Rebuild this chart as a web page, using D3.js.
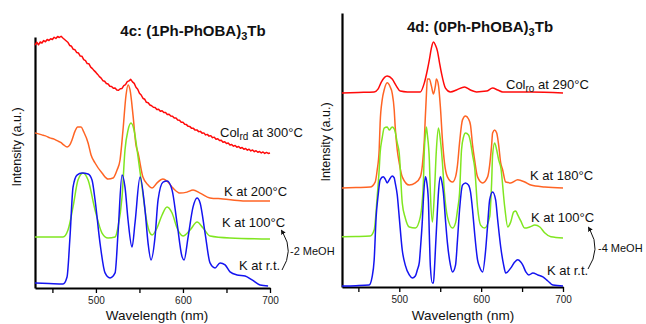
<!DOCTYPE html>
<html>
<head>
<meta charset="utf-8">
<script src="https://cdn.jsdelivr.net/npm/d3@7"></script>
<style>
  body { margin: 0; background: #fff; }
  svg { font-family: "Liberation Sans", Arial, sans-serif; }
  .lbl { font-size: 13px; fill: #111; }
  .ttl { font-size: 15px; font-weight: bold; fill: #111; }
  .tick text { font-size: 10px; fill: #222; }
</style>
</head>
<body>
<script>
// wavelength ticks (nm)
var xTicks = [450, 500, 550, 600, 650, 700];
var xLabels = [500, 600, 700];

// ---- 4c: (1Ph-PhOBA)3Tb ----  [wavelength, intensity a.u.]
var c_col300 = [[430,96.8],[432,97.9],[434,96.9],[436,98.0],[438,97.6],[440,98.6],[442,98.1],[444,99.0],[446,98.6],[448,99.3],[450,99.0],[452,99.9],[454,99.4],[456,100.2],[458,99.8],[460,100.3],[462,99.6],[464,99.0],[466,98.4],[468,97.8],[470,96.6],[472,96.3],[474,95.1],[476,94.9],[478,93.8],[480,93.6],[482,92.4],[484,92.3],[486,91.0],[488,90.6],[490,89.4],[492,89.3],[494,88.0],[496,87.4],[498,86.6],[500,85.9],[502,85.1],[504,84.2],[506,83.6],[508,82.6],[510,82.4],[512,81.5],[514,81.3],[516,80.4],[518,80.3],[520,79.6],[522,79.7],[524,78.9],[526,78.8],[528,79.4],[530,79.5],[532,80.6],[534,81.0],[536,82.2],[538,82.5],[540,83.1],[542,82.1],[544,81.5],[546,80.0],[548,79.2],[550,77.6],[552,76.9],[554,75.6],[556,75.2],[558,74.0],[560,73.8],[562,72.9],[564,72.6],[566,72.0],[568,71.9],[570,71.1],[572,71.2],[574,70.4],[576,70.6],[578,69.9],[580,69.9],[582,69.1],[584,69.2],[586,68.5],[588,68.4],[590,67.7],[592,67.7],[594,66.9],[596,66.8],[598,66.0],[600,66.0],[602,65.2],[604,65.1],[606,64.4],[608,64.3],[610,63.6],[612,63.6],[614,62.9],[616,63.0],[618,62.3],[620,62.4],[622,61.7],[624,61.8],[626,61.0],[628,61.2],[630,60.5],[632,60.7],[634,59.9],[636,60.1],[638,59.3],[640,59.5],[642,58.8],[644,58.9],[646,58.1],[648,58.3],[650,57.6],[652,57.8],[654,57.0],[656,57.2],[658,56.5],[660,56.8],[662,56.1],[664,56.4],[666,55.7],[668,56.0],[670,55.3],[672,55.6],[674,54.9],[676,55.3],[678,54.6],[680,55.0],[682,54.3],[684,54.7],[686,54.1],[688,54.4],[690,53.8],[692,54.2],[694,53.6],[696,54.0],[698,53.6],[700,53.8]];
var c_k200 = [[430,61.8],[434,61.4],[438,61.0],[442,60.6],[447,59.8],[452,59.3],[456,58.6],[460,57.9],[463,57.0],[467,56.2],[470,57.0],[472.5,59.0],[476,62.5],[479,64.1],[483,64.1],[486,62.2],[491,57.8],[494.4,53.0],[499,49.8],[507,45.8],[514,43.4],[519.7,43.8],[524.3,47.0],[527.7,51.0],[531.1,62.9],[534.6,76.9],[536.9,80.9],[539.2,78.9],[542.6,68.9],[546,57.0],[548.4,53.8],[554,44.2],[560,41.0],[564.5,39.8],[570,41.8],[577,43.4],[581.7,42.6],[588.6,39.8],[596.7,37.8],[604.7,38.2],[611.6,39.0],[619.7,37.8],[631,35.9],[646,35.5],[669,34.7],[700,34.7]];
var c_k100 = [[430,20.3],[446,20.3],[462.2,20.3],[467.9,23.1],[473.7,32.3],[479.4,43.0],[485.2,45.8],[491,43.0],[499,31.1],[507,21.9],[513.9,19.9],[522,20.3],[525.4,24.3],[530,36.3],[533.4,55.0],[536.9,62.9],[540.3,65.7],[543.8,62.9],[548.4,52.2],[553,40.2],[558.7,25.9],[564.5,21.1],[570.2,23.9],[576,29.1],[581.7,32.3],[587.5,29.9],[593.2,23.9],[600.1,20.7],[608.2,23.1],[616.2,26.3],[623.1,23.9],[631.1,20.7],[654,19.9],[700,19.5]];
var c_krt = [[430,2.0],[446,1.8],[462.2,1.6],[466.8,4.4],[470.2,20.3],[473.7,40.2],[478.3,45.0],[484,45.8],[491,45.4],[495.5,43.0],[499,35.1],[504.7,17.9],[510.5,6.0],[516.2,4.0],[522,6.0],[525.4,21.9],[530,45.0],[533.4,40.2],[536.9,27.1],[541.5,16.3],[544.9,25.9],[550.7,44.2],[556.4,31.1],[559.9,17.9],[563.3,11.2],[567.9,20.3],[571.4,35.1],[577.1,42.2],[581.7,42.6],[587.5,39.0],[593.2,25.9],[599,12.4],[601.3,11.2],[605.9,20.3],[611.6,32.3],[616.2,35.9],[619.7,33.9],[625.4,21.9],[631.1,10.0],[636.9,8.0],[642.6,10.0],[648.4,9.2],[654.1,6.4],[662.2,5.2],[671.4,4.8],[679.4,3.2],[688.6,1.2],[697.8,0.8]];

// ---- 4d: (0Ph-PhOBA)3Tb ----
var d_col290 = [[430,70.8],[450,71.0],[469.3,71.2],[474.2,72.3],[478,74.8],[485.2,77.0],[491.3,75.9],[496.3,73.4],[501.2,71.5],[509.8,71.2],[525.7,71.2],[530.6,74.5],[534.3,79.2],[536.7,82.9],[539.2,87.2],[541.7,89.4],[544.1,88.3],[546.6,86.1],[549,82.1],[551.5,78.1],[556.4,72.6],[562.5,71.2],[569.9,71.9],[579.7,73.0],[587,71.9],[594.4,71.2],[606.7,71.5],[614,72.6],[620.2,71.9],[626.3,71.2],[660.7,71.2],[700,70.8]];
var d_k180 = [[430,36.1],[447,36.3],[464.4,36.5],[470.5,38.3],[473,42.7],[475.4,50.0],[476.6,59.9],[479.1,68.3],[481.5,71.9],[485.2,74.5],[488.9,73.0],[491.3,70.8],[493.8,64.6],[495,58.4],[497.5,50.0],[499.9,45.3],[503.6,40.2],[512.2,37.2],[519.6,38.0],[525.7,40.2],[528.2,44.5],[530.6,53.7],[531.8,62.1],[533.1,70.1],[534.3,75.9],[536.7,75.9],[539.2,73.4],[541.7,70.4],[544.1,73.4],[545.3,75.9],[547.8,73.7],[550.2,65.7],[552.7,53.7],[555.2,45.3],[558.8,40.2],[565,38.3],[568.7,40.2],[571.1,44.5],[573.6,52.6],[577.2,61.0],[580.9,62.4],[584.6,61.3],[587,59.1],[589.5,51.8],[592,46.4],[595.6,40.2],[601.8,38.0],[607.9,40.2],[610.4,44.5],[612.8,51.8],[614,56.2],[616.5,57.3],[619,56.2],[621.4,51.8],[623.9,45.3],[626.3,42.7],[630,38.3],[636.1,38.0],[644.7,39.1],[653.3,38.3],[660.7,37.2],[677.9,36.5],[700,36.1]];
var d_k100 = [[430,18.3],[447,18.4],[464.4,18.6],[469.3,20.8],[473,32.9],[475.4,42.7],[476.6,48.9],[479.1,54.4],[481.5,58.0],[485.2,58.4],[487.7,57.3],[491.3,58.4],[493.8,57.7],[495,56.6],[497.5,52.6],[499.9,48.9],[503.6,30.7],[507.3,25.2],[512.2,21.9],[519.6,21.5],[525.7,25.6],[529.4,38.0],[530.6,50.0],[531.8,55.5],[533.1,58.4],[534.3,55.5],[536.7,46.4],[538,34.3],[540.4,23.7],[542.9,34.3],[545.3,50.0],[547.8,58.0],[550.2,53.7],[552.7,45.3],[555.2,34.3],[558.8,25.6],[565,21.5],[568.7,23.4],[571.1,28.1],[573.6,34.3],[576,50.0],[578.5,54.8],[580.9,56.2],[584.6,55.5],[587,52.9],[589.5,48.2],[592,43.8],[595.6,29.2],[599.3,22.6],[604.2,21.5],[610.4,25.6],[612.8,38.0],[614,48.2],[616.5,52.6],[619,50.0],[621.4,46.4],[623.9,43.8],[628.8,29.2],[632.5,21.9],[636.1,23.7],[639.8,27.4],[642.3,27.7],[644.7,26.3],[648.4,24.1],[653.3,21.5],[659.4,21.9],[665.6,22.6],[671.7,21.9],[677.9,19.7],[685.2,18.3],[700,17.9]];
var d_krt = [[430,0.4],[447,0.5],[463.1,0.7],[466.8,3.7],[469.3,9.9],[471.7,25.6],[474.2,33.6],[476.6,39.1],[480.3,40.2],[482.8,39.4],[485.2,38.0],[487.7,39.1],[491.3,40.5],[493.8,39.8],[495,38.0],[497.5,33.6],[499.9,25.6],[503.6,13.5],[507.3,8.0],[512.2,4.4],[515.9,3.3],[519.6,4.0],[522,6.2],[524.5,9.1],[525.7,13.5],[528.2,24.5],[529.4,31.8],[531.8,40.2],[533.1,39.1],[535.5,31.8],[536.7,19.0],[538,7.3],[540.4,1.5],[541.7,1.5],[542.9,6.2],[544.1,13.5],[546.6,28.1],[547.8,34.3],[550.2,40.2],[551.5,39.1],[553.9,34.3],[556.4,24.5],[558.8,16.1],[562.5,8.0],[565,5.5],[568.7,8.0],[571.1,17.2],[573.6,28.1],[577.2,37.2],[580.9,38.0],[584.6,37.2],[587,34.7],[589.5,28.1],[592,19.7],[595.6,9.9],[598.1,7.3],[601.8,5.5],[605.5,13.5],[607.9,22.6],[610.4,31.8],[614,34.7],[617.7,31.8],[620.2,24.5],[623.9,14.6],[627.5,8.0],[630,5.1],[636.1,6.9],[641,9.1],[644.7,9.9],[648.4,9.1],[650.9,8.0],[654.6,5.5],[658.3,4.4],[663.2,5.1],[669.3,4.4],[675.4,3.7],[681.5,2.2],[687.7,0.7],[700,0.4]];

var RED = "#ff0a0a", ORANGE = "#ff6424", GREEN = "#80e620", BLUE = "#1414f0";

var svg = d3.select("body").append("svg").attr("width", 646).attr("height", 324);

var defs = svg.append("defs");
defs.append("marker").attr("id", "ah")
  .attr("viewBox", "0 0 10 10").attr("refX", 2).attr("refY", 5)
  .attr("markerWidth", 5).attr("markerHeight", 5).attr("orient", "auto-start-reverse")
  .append("path").attr("d", "M0,0L10,5L0,10z").attr("fill", "#111");

function panel(p) {
  var x = d3.scaleLinear().domain([430, 700]).range([p.x0, p.x1]);
  var y = d3.scaleLinear().domain([0, 100]).range([p.yb, p.yt]);
  var g = svg.append("g");

  var xa = g.append("g").attr("transform", "translate(0," + p.yb + ")")
    .call(d3.axisBottom(x).tickValues(xTicks).tickSize(5).tickSizeOuter(0).tickPadding(4)
      .tickFormat(function (d) { return xLabels.indexOf(d) >= 0 ? d : ""; }));
  xa.select(".domain").attr("stroke-width", 2.2);
  xa.selectAll(".tick line").attr("stroke-width", 1.3);

  var ya = g.append("g").attr("transform", "translate(" + p.x0 + ",0)")
    .call(d3.axisLeft(y).tickValues([]).tickSizeOuter(0));
  ya.select(".domain").attr("stroke-width", 2.2);

  var line = d3.line().x(function (d) { return x(d[0]); }).y(function (d) { return y(d[1]); });
  p.series.forEach(function (s) {
    g.append("path").datum(s.data)
      .attr("d", line.curve(s.rough ? d3.curveLinear : d3.curveMonotoneX))
      .attr("fill", "none").attr("stroke", s.color).attr("stroke-width", 1.5)
      .attr("stroke-linejoin", "round");
  });

  // title
  var t = g.append("text").attr("class", "ttl").attr("x", p.titleX).attr("y", p.titleY).attr("text-anchor", "middle");
  t.append("tspan").text(p.title[0]);
  t.append("tspan").attr("dy", 4).style("font-size", "11px").text("3");
  t.append("tspan").attr("dy", -4).text("Tb");

  // axis titles
  g.append("text").attr("class", "lbl").style("font-size", "13.5px")
    .attr("x", p.xlabX).attr("y", p.xlabY).attr("text-anchor", "middle").text("Wavelength (nm)");
  g.append("text").attr("class", "lbl").style("font-size", "12.5px")
    .attr("transform", "translate(" + p.ylabX + "," + p.ylabY + ") rotate(-90)")
    .attr("text-anchor", "middle").text("Intensity (a.u.)");

  // series labels
  p.labels.forEach(function (l) {
    var tx = g.append("text").attr("class", "lbl").attr("x", l.x).attr("y", l.y);
    if (l.sub) {
      tx.append("tspan").text("Col");
      tx.append("tspan").attr("dy", 3).style("font-size", "10px").text(l.sub);
      tx.append("tspan").attr("dy", -3).text(" " + l.text);
    } else {
      tx.text(l.text);
    }
  });

  // loss of methanol arrow
  g.append("path").attr("d", p.arrow).attr("fill", "none").attr("stroke", "#111")
    .attr("stroke-width", 1).attr("marker-start", "url(#ah)");
  g.append("text").attr("class", "lbl").style("font-size", "11px")
    .attr("x", p.meoh[0]).attr("y", p.meoh[1]).text(p.meoh[2]);
}

panel({
  x0: 35, x1: 270, yb: 288, yt: 37,
  title: ["4c: (1Ph-PhOBA)"], titleX: 193, titleY: 36,
  xlabX: 157, xlabY: 320, ylabX: 21, ylabY: 147,
  series: [
    { data: c_col300, color: RED, rough: true },
    { data: c_k200, color: ORANGE },
    { data: c_k100, color: GREEN },
    { data: c_krt, color: BLUE }
  ],
  labels: [
    { x: 220, y: 137, sub: "rd", text: "at 300°C" },
    { x: 224, y: 196, text: "K at 200°C" },
    { x: 222, y: 227, text: "K at 100°C" },
    { x: 239, y: 270, text: "K at r.t." }
  ],
  arrow: "M283,233 Q294,251 282,270",
  meoh: [290, 255, "-2 MeOH"]
});

panel({
  x0: 342, x1: 563, yb: 287, yt: 13,
  title: ["4d: (0Ph-PhOBA)"], titleX: 480, titleY: 32,
  xlabX: 463, xlabY: 320, ylabX: 330, ylabY: 142,
  series: [
    { data: d_col290, color: RED },
    { data: d_k180, color: ORANGE },
    { data: d_k100, color: GREEN },
    { data: d_krt, color: BLUE }
  ],
  labels: [
    { x: 506, y: 89, sub: "ro", text: "at 290°C" },
    { x: 530, y: 180, text: "K at 180°C" },
    { x: 531, y: 222, text: "K at 100°C" },
    { x: 547, y: 275, text: "K at r.t." }
  ],
  arrow: "M590,230 Q601,249 588,269",
  meoh: [598, 252, "-4 MeOH"]
});
</script>
</body>
</html>
